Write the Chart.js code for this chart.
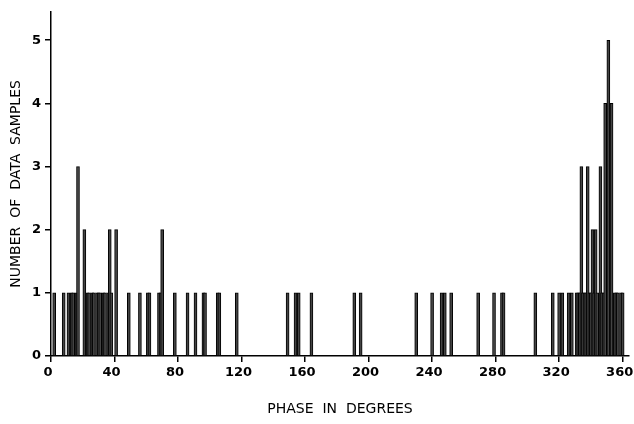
<!DOCTYPE html>
<html>
<head>
<meta charset="utf-8">
<script src="https://cdn.jsdelivr.net/npm/chart.js@4/dist/chart.umd.min.js"></script>
<style>
  body { margin: 0; background: #fff; }
</style>
</head>
<body>
<canvas id="chart" width="634" height="424"></canvas>
<script>
// phase (degrees) of each histogram bin and number of samples in it
const phases = [
  2, 8, 11, 13, 14, 16, 17, 21, 23, 24, 26, 27, 29, 30, 31, 33, 34, 36, 37, 38, 41,
  49, 56, 61, 62, 68, 69, 70, 78, 86, 91, 96, 97, 105, 106, 117,
  149, 154, 156, 164, 191, 195, 230, 240, 246, 248, 252, 269, 279, 284, 285,
  305, 316, 320, 322, 326, 328, 331, 332, 333, 334, 335, 336, 337, 338, 339, 340,
  341, 342, 343, 344, 346, 347, 348, 349, 351, 353, 355, 356, 357, 359, 360
];
const counts = [
  1, 1, 1, 1, 1, 1, 3, 2, 1, 1, 1, 1, 1, 1, 1, 1, 1, 1, 2, 1, 2,
  1, 1, 1, 1, 1, 1, 2, 1, 1, 1, 1, 1, 1, 1, 1,
  1, 1, 1, 1, 1, 1, 1, 1, 1, 1, 1, 1, 1, 1, 1,
  1, 1, 1, 1, 1, 1, 1, 1, 1, 3, 1, 1, 1, 3, 1, 1,
  2, 1, 2, 1, 3, 1, 1, 4, 5, 4, 1, 1, 1, 1, 1
];
const xTicks = [0, 40, 80, 120, 160, 200, 240, 280, 320, 360];
const yTicks = [0, 1, 2, 3, 4, 5];

const labelFont = { family: "DejaVu Sans", size: 13, weight: "bold" };
const titleFont = { family: "DejaVu Sans", size: 14 };

new Chart(document.getElementById("chart"), {
  type: "bar",
  data: {
    datasets: [
      {
        data: phases.map((p, i) => ({ x: p, y: counts[i] })),
        backgroundColor: "#444",
        borderColor: "#000",
        borderWidth: 1,
        barThickness: 3,
      },
    ],
  },
  options: {
    responsive: false,
    animation: false,
    layout: { padding: { top: 8, right: 5, left: 0, bottom: 0 } },
    plugins: { legend: { display: false }, tooltip: { enabled: false } },
    scales: {
      x: {
        type: "linear",
        min: 0,
        max: 364,
        offset: false,
        afterBuildTicks: (s) => { s.ticks = xTicks.map((v) => ({ value: v })); },
        afterFit: (s) => {
          s.height = 68;
          // let the axis run to the right edge like the original
          s.paddingLeft = 0;
          s.paddingRight = 0;
        },
        grid: { offset: false, drawOnChartArea: false, tickLength: 6, color: "#000", lineWidth: 1.5 },
        border: { color: "#000", width: 1.5 },
        ticks: { color: "#000", font: labelFont, maxRotation: 0, padding: 3, labelOffset: -3 },
        title: {
          display: true,
          text: "PHASE  IN  DEGREES",
          color: "#000",
          font: titleFont,
          padding: { top: 0, bottom: 6 },
        },
      },
      y: {
        min: 0,
        max: 5.45,
        afterBuildTicks: (s) => { s.ticks = yTicks.map((v) => ({ value: v })); },
        afterFit: (s) => { s.width = 51; },
        grid: { drawOnChartArea: false, tickLength: 6, color: "#000", lineWidth: 1.5 },
        border: { color: "#000", width: 1.5 },
        ticks: { color: "#000", font: labelFont, padding: 4 },
        title: {
          display: true,
          text: "NUMBER  OF  DATA  SAMPLES",
          color: "#000",
          font: titleFont,
          padding: { top: 8, bottom: 0 },
        },
      },
    },
  },
});
</script>
</body>
</html>
